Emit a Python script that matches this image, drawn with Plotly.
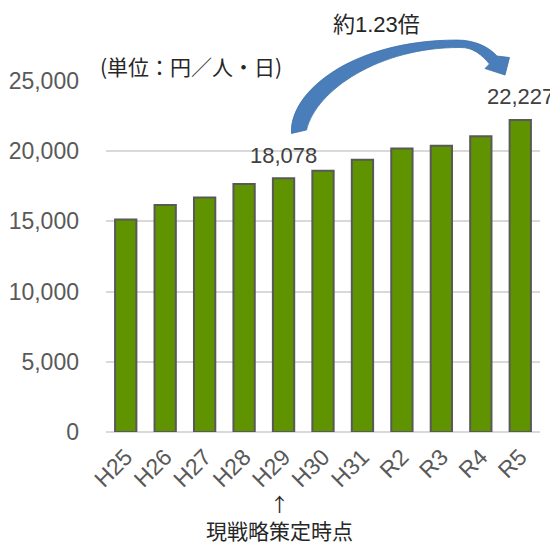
import plotly.graph_objects as go

# ---- data ----
categories = ["H25", "H26", "H27", "H28", "H29", "H30", "H31", "R2", "R3", "R4", "R5"]
values = [15130, 16170, 16700, 17660, 18078, 18600, 19390, 20190, 20380, 21070, 22227]
y_ticks = [0, 5000, 10000, 15000, 20000, 25000]
unit_label = "(単位：円／人・日)"
ratio_label = "約1.23倍"
note_label = "現戦略策定時点"
labeled = {"H29": 18078, "R5": 22227}

# page is 558x547 but the HTML body has an 8px margin, so the figure is drawn 8px in
OFF = 8
W, H = 558 - OFF, 547 - OFF
PL, PR, PT, PB = 106, 540, 81, 432.3          # plot area in page pixels
L, R, T, B = PL - OFF, 558 - PR, PT - OFF, 547 - PB
PW, PH = PR - PL, PB - PT


def px(x):
    return (x - PL) / PW


def py(y):
    return (PB - y) / PH


LAT = "Liberation Sans, Arial, Noto Sans CJK JP, sans-serif"
JP = "Noto Sans CJK JP, Liberation Sans, sans-serif"

fig = go.Figure()
fig.add_trace(go.Bar(
    x=categories, y=values, width=0.54,
    marker=dict(color="#5F9300", line=dict(color="#595959", width=2)),
    hoverinfo="x+y",
))

annotations = []
for cat, v in labeled.items():
    annotations.append(dict(
        x=cat, y=v, xref="x", yref="y", text=f"{v:,}", showarrow=False,
        yanchor="middle", yshift=23, font=dict(family=LAT, size=22, color="#404040"),
    ))

annotations += [
    dict(x=px(98), y=py(66), xref="paper", yref="paper", text=unit_label, showarrow=False,
         xanchor="left", yanchor="middle", font=dict(family=JP, size=21, color="#262626")),
    dict(x=px(376), y=py(24), xref="paper", yref="paper", text=ratio_label, showarrow=False,
         xanchor="center", yanchor="middle", font=dict(family=LAT, size=22, color="#262626")),
    dict(x=px(279), y=py(504), xref="paper", yref="paper", text="↑", showarrow=False,
         xanchor="center", yanchor="middle", font=dict(family=JP, size=19, color="#262626")),
    dict(x=px(279.5), y=py(530), xref="paper", yref="paper", text=note_label, showarrow=False,
         xanchor="center", yanchor="middle", font=dict(family=JP, size=21, color="#262626")),
]


def P(x, y):
    return f"{px(x):.5f},{py(y):.5f}"


arrow_path = (
    f"M {P(291.5,133.5)} "
    f"C {P(289,92)} {P(352,40)} {P(457,40)} "
    f"C {P(475,40)} {P(489,47)} {P(497,56)} "
    f"L {P(509.5,57.5)} L {P(505,75)} L {P(485,68.5)} L {P(489.5,64)} "
    f"C {P(482,55)} {P(473,47)} {P(460,47.5)} "
    f"C {P(380,47)} {P(316,90)} {P(306.5,130)} Z"
)

shapes = [dict(type="path", xref="paper", yref="paper", path=arrow_path,
               fillcolor="#4A7EBB", line=dict(color="#3E6FA8", width=0.8), layer="above")]

fig.update_layout(
    width=W, height=H,
    margin=dict(l=L, r=R, t=T, b=B, pad=0, autoexpand=False),
    plot_bgcolor="white", paper_bgcolor="white",
    showlegend=False,
    annotations=annotations,
    shapes=shapes,
    xaxis=dict(
        type="category", tickangle=-45, showgrid=False, showline=False, ticks="",
        ticklabelstandoff=6, automargin=False,
        tickfont=dict(family=LAT, size=23, color="#595959"),
        range=[-0.5, len(categories) - 0.5],
    ),
    yaxis=dict(
        range=[0, 25000], tickvals=y_ticks, tickformat=",", ticks="",
        showgrid=True, gridcolor="#D9D9D9", gridwidth=1.5,
        zeroline=True, zerolinecolor="#D9D9D9", zerolinewidth=2,
        showline=False, ticklabelstandoff=26, automargin=False,
        tickfont=dict(family=LAT, size=23, color="#595959"),
    ),
)

fig.write_html("out.html")
